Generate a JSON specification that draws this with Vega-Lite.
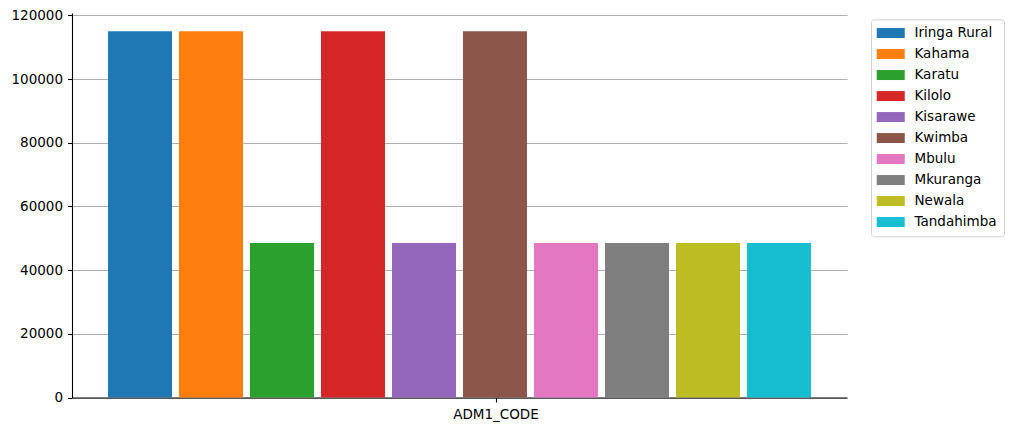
{
  "$schema": "https://vega.github.io/schema/vega-lite/v6.json",
  "autosize": {"type": "none"},
  "padding": {"left": 72, "top": 13, "right": 167, "bottom": 33.5},
  "width": 775,
  "height": 384.5,
  "background": "white",
  "data": {
    "values": [
      {"code": "ADM1_CODE", "district": "Iringa Rural", "value": 115000},
      {"code": "ADM1_CODE", "district": "Kahama", "value": 115000},
      {"code": "ADM1_CODE", "district": "Karatu", "value": 48500},
      {"code": "ADM1_CODE", "district": "Kilolo", "value": 115000},
      {"code": "ADM1_CODE", "district": "Kisarawe", "value": 48500},
      {"code": "ADM1_CODE", "district": "Kwimba", "value": 115000},
      {"code": "ADM1_CODE", "district": "Mbulu", "value": 48500},
      {"code": "ADM1_CODE", "district": "Mkuranga", "value": 48500},
      {"code": "ADM1_CODE", "district": "Newala", "value": 48500},
      {"code": "ADM1_CODE", "district": "Tandahimba", "value": 48500}
    ]
  },
  "mark": {"type": "bar"},
  "encoding": {
    "x": {
      "field": "code",
      "type": "nominal",
      "title": null,
      "scale": {"paddingInner": 0, "paddingOuter": 0.0458},
      "axis": {
        "labelAngle": 0,
        "tickOffset": 36,
        "labelOffset": 0,
        "labelPadding": 5,
        "tickSize": 4.5
      }
    },
    "xOffset": {
      "field": "district",
      "type": "nominal",
      "scale": {"paddingInner": 0.0986, "paddingOuter": 0.0493}
    },
    "y": {
      "field": "value",
      "type": "quantitative",
      "title": null,
      "scale": {"domain": [0, 120750], "nice": false},
      "axis": {
        "values": [0, 20000, 40000, 60000, 80000, 100000, 120000],
        "format": "d",
        "grid": true,
        "tickSize": 4.5,
        "labelPadding": 5
      }
    },
    "color": {
      "field": "district",
      "type": "nominal",
      "title": null,
      "scale": {
        "range": ["#1f77b4", "#ff7f0e", "#2ca02c", "#d62728", "#9467bd", "#8c564b", "#e377c2", "#7f7f7f", "#bcbd22", "#17becf"]
      },
      "legend": {
        "orient": "none",
        "legendX": 799,
        "legendY": 6.3,
        "symbolType": "M-1.6,-1L4,-1L4,1L-1.6,1Z",
        "symbolSize": 100,
        "symbolStrokeWidth": 0,
        "symbolOpacity": 1,
        "labelOffset": 23,
        "rowPadding": 6,
        "padding": 7,
        "strokeColor": "#d0d0d0",
        "fillColor": "white",
        "cornerRadius": 3
      }
    }
  },
  "config": {
    "view": {"stroke": null},
    "font": "DejaVu Sans",
    "axis": {
      "labelFont": "DejaVu Sans",
      "labelFontSize": 13.5,
      "labelColor": "black",
      "domainColor": "black",
      "domainWidth": 1.1,
      "tickColor": "black",
      "tickWidth": 1.1,
      "gridColor": "#b0b0b0",
      "gridWidth": 1.1,
      "gridOpacity": 1
    },
    "axisX": {"grid": false},
    "legend": {
      "labelFont": "DejaVu Sans",
      "labelFontSize": 13.5,
      "labelColor": "black"
    }
  }
}
